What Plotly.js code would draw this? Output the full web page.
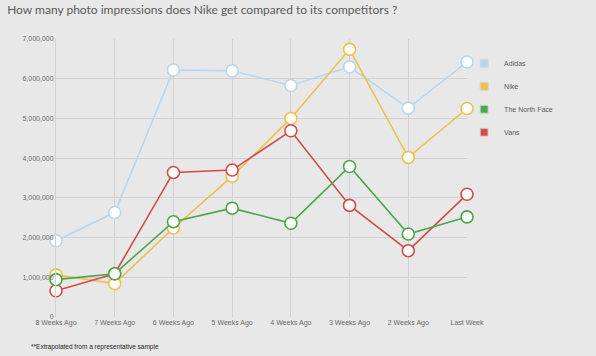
<!DOCTYPE html>
<html><head><meta charset="utf-8">
<script src="https://cdn.plot.ly/plotly-3.0.1.min.js"></script>
<style>html,body{margin:0;padding:0;background:#e8e8e8;}#chart{width:596px;height:356px;}</style>
</head><body><div id="chart"></div>
<script>
const weeks = ["8 Weeks Ago","7 Weeks Ago","6 Weeks Ago","5 Weeks Ago","4 Weeks Ago","3 Weeks Ago","2 Weeks Ago","Last Week"];
const adidas = [1920000, 2630000, 6220000, 6200000, 5830000, 6300000, 5260000, 6420000];
const nike = [1060000, 840000, 2240000, 3540000, 5000000, 6740000, 4020000, 5250000];
const northFace = [940000, 1090000, 2400000, 2740000, 2360000, 3790000, 2090000, 2520000];
const vans = [660000, 1090000, 3640000, 3700000, 4690000, 2810000, 1670000, 3090000];
const seriesNames = ["Adidas","Nike","The North Face","Vans"];
const seriesColors = ["#b7d6ef","#ecc24a","#4ca64b","#d24c4a"];
const yTicks = [0,1000000,2000000,3000000,4000000,5000000,6000000,7000000];

const allData = [adidas, nike, northFace, vans];
const traces = [];
[0,1,3,2].forEach(i => {
  traces.push({
    x: weeks, y: allData[i], type: 'scatter', mode: 'lines+markers',
    name: seriesNames[i], showlegend: false, cliponaxis: false,
    line: {color: seriesColors[i], width: 1.6},
    marker: {size: 12, color: '#ffffff', line: {color: seriesColors[i], width: 1.6}}
  });
});
seriesNames.forEach((n, i) => {
  traces.push({
    x: [null], y: [null], type: 'scatter', mode: 'markers', name: n,
    legendgroup: 'g' + i, showlegend: true,
    marker: {symbol: 'square', size: 8, color: seriesColors[i], line: {color: '#d6d6d6', width: 1}}
  });
});

const layout = {
  width: 596, height: 356,
  paper_bgcolor: '#e8e8e8', plot_bgcolor: '#e8e8e8',
  margin: {l: 56, r: 129, t: 39, b: 39},
  font: {family: 'Liberation Sans, Arial, sans-serif', size: 7, color: '#666'},
  title: {text: 'How many photo impressions does Nike get compared to its competitors ?',
    x: 0.012, xanchor: 'left', y: 0.972, yanchor: 'middle',
    font: {family: 'Lato, sans-serif', size: 12, color: '#5a5a5a'}},
  xaxis: {type: 'category', range: [0, 7], showgrid: true, gridcolor: '#d2d2d2', gridwidth: 1,
    zeroline: false, showline: false, ticks: '', tickfont: {size: 7, color: '#6a6a6a'}, fixedrange: true},
  yaxis: {range: [0, 7000000], tickvals: yTicks, ticktext: yTicks.map(v => v.toLocaleString('en-US')),
    showgrid: true, gridcolor: '#d2d2d2', gridwidth: 1, zeroline: false,
    showline: true, linecolor: '#d2d2d2', ticks: '', tickfont: {size: 7, color: '#6a6a6a'}, fixedrange: true},
  legend: {x: 0.993, xanchor: 'left', y: 0.965, yanchor: 'top', bgcolor: 'rgba(0,0,0,0)',
    font: {size: 7, color: '#5a5a5a'}, tracegroupgap: 4, itemclick: false},
  annotations: [{text: '**Extrapolated from a representative sample', xref: 'paper', yref: 'paper',
    x: -0.065, y: -0.085, xanchor: 'left', yanchor: 'top', showarrow: false,
    font: {size: 6.5, color: '#222'}}],
  showlegend: true
};
Plotly.newPlot('chart', traces, layout, {displayModeBar: false, staticPlot: true});
</script></body></html>
